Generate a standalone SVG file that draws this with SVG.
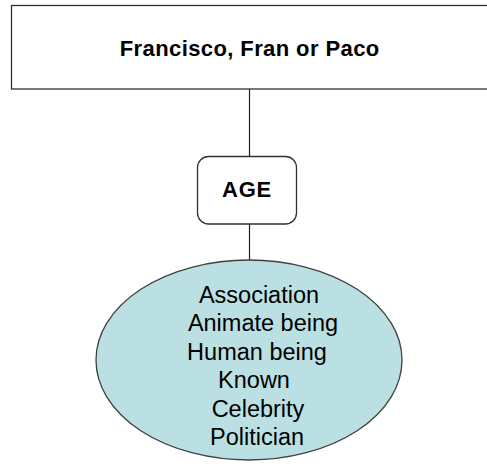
<svg xmlns="http://www.w3.org/2000/svg" width="487" height="466" viewBox="0 0 487 466">
  <style>
    .box { fill: #ffffff; stroke: #303030; stroke-width: 1.3; }
    .oval { fill: #bbe0e3; stroke: #404040; stroke-width: 1.3; }
    .link { stroke: #202020; stroke-width: 1.2; fill: none; }
    .bold { font-family: "Liberation Sans", Arial, sans-serif; font-weight: bold; fill: #000000; text-anchor: middle; }
    .plain { font-family: "Liberation Sans", Arial, sans-serif; font-size: 23.5px; fill: #000000; text-anchor: middle; }
  </style>
  <rect width="487" height="466" fill="#ffffff"/>
  <g id="connectors">
    <line class="link" x1="249.5" y1="89" x2="249.5" y2="156"/>
    <line class="link" x1="249.5" y1="224" x2="249.5" y2="260"/>
  </g>
  <g id="name">
    <rect class="box" x="11.5" y="5.5" width="490" height="83.5"/>
    <text class="bold" x="249.7" y="56" font-size="22" letter-spacing="0.4">Francisco, Fran or Paco</text>
  </g>
  <g id="age">
    <rect class="box" x="197.5" y="156.5" width="99" height="67.5" rx="11" ry="11"/>
    <text class="bold" x="247" y="197" font-size="22" letter-spacing="0.8">AGE</text>
  </g>
  <g id="features">
    <ellipse class="oval" cx="249" cy="360" rx="153" ry="100"/>
    <text class="plain" x="259" y="302.5">Association</text>
    <text class="plain" x="263" y="331">Animate being</text>
    <text class="plain" x="257" y="359.5">Human being</text>
    <text class="plain" x="254" y="388">Known</text>
    <text class="plain" x="258" y="416.5">Celebrity</text>
    <text class="plain" x="257" y="445">Politician</text>
  </g>
</svg>
